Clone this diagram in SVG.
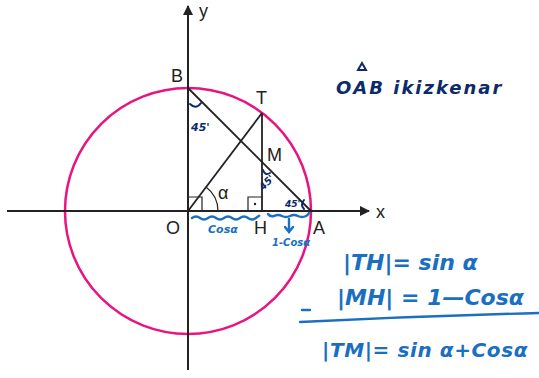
<svg xmlns="http://www.w3.org/2000/svg" width="539" height="378" viewBox="0 0 539 378">
<style>
.ax{stroke:#222;stroke-width:2;fill:none}
.ln{stroke:#222;stroke-width:1.8;fill:none}
.thin{stroke:#222;stroke-width:1.2;fill:none}
.lbl{font-family:"Liberation Sans",Arial,sans-serif;font-size:18px;fill:#222}
.nv{font-family:"DejaVu Sans",sans-serif;font-weight:bold;font-style:italic;fill:#0d2a6b}
.bl{font-family:"DejaVu Sans",sans-serif;font-weight:bold;font-style:italic;fill:#1a6fc0}
.nvs{stroke:#0d2a6b;stroke-width:2;fill:none;stroke-linecap:round}
.bls{stroke:#1a6fc0;stroke-width:2.4;fill:none;stroke-linecap:round}
</style>
<defs>
<marker id="ar" markerWidth="10" markerHeight="10" refX="9" refY="5" orient="auto" markerUnits="userSpaceOnUse"><path d="M0,0 L10,5 L0,10 Z" fill="#222"/></marker>
</defs>
<rect width="539" height="378" fill="#fff"/>
<g id="circle"><circle cx="188" cy="211" r="123" fill="none" stroke="#e6157f" stroke-width="2.5"/></g>
<g id="connectors">
<line class="ax" x1="7" y1="211" x2="369" y2="211" marker-end="url(#ar)"/>
<line class="ax" x1="188" y1="370" x2="188" y2="6" marker-end="url(#ar)"/>
<line class="ln" x1="188" y1="88" x2="311" y2="211"/>
<line class="ln" x1="188" y1="211" x2="262" y2="113"/>
<line class="ln" x1="262" y1="113" x2="262" y2="211"/>
<path class="thin" d="M188,197 H202 V211"/>
<path class="thin" d="M248,211 V197 H262"/>
<circle cx="255" cy="204" r="1.2" fill="#222"/>
<path class="thin" d="M218,211 A30,30 0 0 0 206,187"/>
</g>
<g id="labels">
<text class="lbl" x="171" y="82">B</text>
<text class="lbl" x="256" y="104">T</text>
<text class="lbl" x="267" y="161">M</text>
<text class="lbl" x="166" y="234">O</text>
<text class="lbl" x="254" y="234">H</text>
<text class="lbl" x="313" y="234">A</text>
<text class="lbl" x="376" y="218">x</text>
<text class="lbl" x="199" y="17">y</text>
<text class="lbl" x="218" y="199" font-size="17">α</text>
</g>
<g id="annotations">
<path class="nvs" d="M190,104 Q196,110 201,103"/>
<text class="nv" x="191" y="131" font-size="11">45'</text>
<path class="nvs" d="M263,170 Q265,176 270,173"/>
<text class="nv" x="0" y="0" font-size="10" transform="translate(263,191) rotate(-45)">45'</text>
<text class="nv" x="285" y="207" font-size="9">45'</text>
<path class="nvs" d="M304,200 Q300,205 304,209"/>
<path class="bls" d="M192,218 q4,-3 8,0 t8,0 t8,0 t8,0 t8,0 t8,0 t8,0 t8,0 t3,-2"/>
<path class="bls" d="M268,214 q2,3 6,2 q4,-2 8,0 q4,2 8,0 q4,-2 8,0 q4,2 8,0 q2,-1 3,-3"/>
<path class="bls" d="M289,219 V231 M285,227 L289,232 L293,227"/>
<text class="bl" x="208" y="233" font-size="11">Cosα</text>
<text class="bl" x="272" y="246" font-size="10">1-Cosα</text>
<text class="nv" x="336" y="94" font-size="18" letter-spacing="2">OAB ikizkenar</text>
<path class="nvs" d="M358,70 L362,63 L366,70 Z"/>
<text class="bl" x="343" y="270" font-size="22">|TH|= sin α</text>
<text class="bl" x="337" y="305" font-size="22">|MH| = 1—Cosα</text>
<path class="bls" d="M302,310 H310"/>
<path class="bls" d="M300,322 Q420,316 539,313"/>
<text class="bl" x="322" y="357" font-size="20" letter-spacing="0.6">|TM|= sin α+Cosα</text>
</g>
</svg>
